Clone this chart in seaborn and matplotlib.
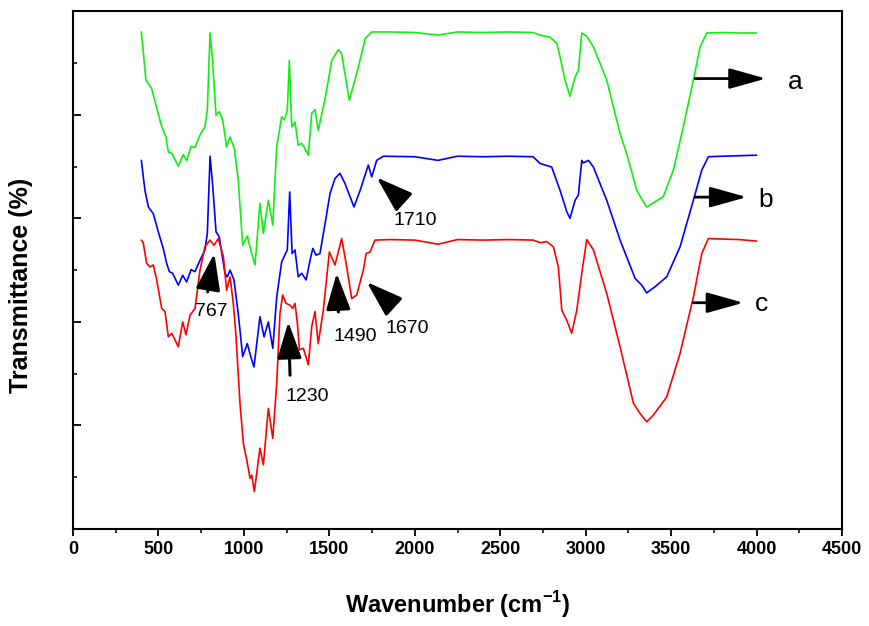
"""
FTIR spectra of samples a, b and c (offset transmittance traces).
Saves the figure to out.png.
"""

import matplotlib
matplotlib.use("Agg")
import matplotlib.pyplot as plt
import seaborn as sns
import pandas as pd
from matplotlib.ticker import MultipleLocator

# spectrum a (green)
wn_a = [400, 427, 460, 519, 544, 558, 578, 616, 645, 665, 691, 714, 743, 772, 786, 802, 815, 837, 856, 876,
        899, 919, 944, 967, 993, 1020, 1040, 1065, 1094, 1114, 1143, 1169, 1192, 1221, 1237, 1254, 1266, 1280,
        1299, 1318, 1338, 1352, 1377, 1397, 1416, 1435, 1475, 1514, 1553, 1572, 1617, 1670, 1709, 1748, 1855,
        2000, 2136, 2250, 2400, 2550, 2692, 2733, 2791, 2831, 2850, 2879, 2908, 2938, 2957, 2977, 3006, 3045,
        3123, 3201, 3240, 3299, 3337, 3357, 3396, 3454, 3513, 3571, 3630, 3669, 3708, 3800, 3900, 4000]
t_a = [96.0, 86.7, 85.1, 77.7, 75.7, 72.8, 72.6, 70.1, 72.3, 71.2, 73.9, 73.7, 76.1, 77.7, 80.9, 95.8, 91.2, 79.9,
       80.6, 79.0, 73.8, 75.7, 73.5, 67.4, 54.8, 56.6, 53.9, 51.0, 62.9, 57.1, 63.5, 58.7, 73.8, 79.6, 79.0, 80.9,
       90.5, 77.7, 78.6, 74.1, 74.5, 73.8, 72.2, 80.3, 81.0, 77.0, 83.1, 90.5, 92.6, 91.8, 82.8, 89.2, 94.7, 96.0,
       96.0, 95.9, 95.4, 96.0, 95.9, 96.0, 95.9, 95.4, 95.0, 93.8, 91.2, 86.7, 83.6, 87.3, 88.6, 95.8, 95.2, 93.1,
       86.7, 76.4, 72.5, 65.4, 63.2, 62.2, 63.0, 64.2, 69.3, 77.7, 86.7, 93.1, 95.8, 95.9, 95.8, 95.8]

# spectrum b (blue)
wn_b = [400, 421, 441, 470, 499, 528, 548, 564, 583, 616, 642, 665, 691, 714, 743, 772, 786, 802, 818, 837,
        856, 889, 903, 919, 942, 967, 993, 1020, 1040, 1059, 1094, 1118, 1143, 1169, 1192, 1221, 1235, 1254,
        1268, 1282, 1299, 1318, 1338, 1364, 1387, 1403, 1422, 1445, 1475, 1504, 1533, 1562, 1592, 1644, 1680,
        1728, 1748, 1777, 1816, 2000, 2136, 2250, 2400, 2550, 2692, 2733, 2801, 2850, 2889, 2908, 2938, 2957,
        2977, 2986, 3016, 3045, 3123, 3201, 3289, 3328, 3357, 3406, 3474, 3552, 3630, 3679, 3718, 3800, 3900, 4000]
t_b = [71.2, 65.4, 62.2, 60.9, 57.4, 54.2, 51.3, 49.7, 49.4, 47.1, 49.0, 47.7, 50.1, 49.7, 51.9, 53.9, 57.1, 72.0,
       66.1, 57.4, 56.4, 49.4, 48.7, 50.0, 48.1, 41.6, 33.3, 35.8, 33.3, 31.3, 41.0, 37.1, 40.0, 34.9, 44.8, 51.6,
       52.6, 53.9, 65.1, 53.2, 53.9, 48.7, 49.4, 48.1, 51.9, 54.2, 52.9, 53.2, 59.0, 64.8, 67.7, 68.7, 66.7, 62.2,
       65.4, 70.3, 68.0, 71.2, 72.0, 71.9, 71.2, 72.0, 71.9, 72.0, 71.9, 70.6, 69.9, 65.4, 61.3, 60.0, 63.5, 64.5,
       71.2, 70.7, 71.2, 69.9, 63.5, 55.8, 48.4, 47.1, 45.6, 46.8, 48.7, 54.5, 63.5, 69.3, 71.9, 72.0, 72.1, 72.2]

# spectrum c (red)
wn_c = [400, 411, 431, 451, 470, 490, 519, 538, 558, 578, 616, 642, 661, 685, 714, 743, 772, 802, 825, 850,
        880, 899, 919, 938, 954, 977, 997, 1017, 1036, 1046, 1061, 1094, 1114, 1143, 1169, 1192, 1211, 1227,
        1246, 1270, 1286, 1299, 1313, 1325, 1348, 1377, 1397, 1416, 1435, 1465, 1500, 1533, 1572, 1598, 1631,
        1660, 1699, 1715, 1738, 1767, 1855, 2000, 2136, 2250, 2400, 2550, 2692, 2733, 2772, 2811, 2840, 2860,
        2889, 2918, 2948, 2977, 3006, 3045, 3123, 3201, 3279, 3318, 3357, 3396, 3474, 3552, 3630, 3679, 3718,
        3800, 3900, 4000]
t_c = [55.8, 55.3, 51.3, 50.6, 51.0, 48.1, 42.6, 42.0, 37.1, 37.8, 35.2, 40.0, 37.5, 41.3, 42.6, 50.0, 54.5, 55.8,
       54.8, 56.1, 52.6, 46.1, 48.7, 43.6, 37.1, 24.3, 16.5, 13.3, 9.8, 10.4, 7.2, 15.6, 12.4, 23.3, 17.5, 28.1,
       41.6, 45.2, 43.6, 43.2, 42.6, 43.6, 39.7, 34.6, 34.9, 31.7, 39.1, 42.0, 35.8, 42.3, 53.5, 51.0, 56.1, 51.3,
       44.5, 45.2, 50.0, 53.2, 53.5, 55.8, 55.9, 55.8, 55.0, 55.9, 55.8, 55.9, 55.8, 55.3, 55.5, 54.5, 50.6, 42.3,
       40.3, 37.8, 42.3, 49.4, 55.9, 53.9, 45.5, 35.2, 24.3, 22.3, 20.7, 22.0, 25.5, 33.9, 44.8, 53.2, 56.1, 56.0,
       55.9, 55.6]

# peak markers: label, arrow tail, arrow tip, label position
peak_labels = ["767", "1230", "1490", "1670", "1710"]
peak_tail = [(788, 45.8), (1270, 29.7), (1553, 41.9), (1855, 43.6), (1914, 63.8)]
peak_tip = [(827, 53.2), (1260, 40.0), (1543, 49.4), (1719, 47.7), (1777, 67.9)]
peak_text = [(812, 42.1), (1368, 25.5), (1650, 37.1), (1953, 38.7), (2001, 59.6)]

# curve name markers
curve_names = ["a", "b", "c"]
name_tail = [(3640, 87.0), (3640, 64.1), (3630, 43.7)]
name_tip = [(4055, 87.0), (3942, 64.1), (3923, 43.7)]
name_text = [(4225, 86.3), (4055, 63.5), (4030, 43.4)]


def main():
    sns.set_style("ticks")
    plt.rcParams["font.family"] = ["Liberation Sans", "DejaVu Sans"]
    plt.rcParams["mathtext.fontset"] = "custom"
    plt.rcParams["mathtext.rm"] = "Liberation Sans"
    plt.rcParams["mathtext.bf"] = "Liberation Sans:bold"
    plt.rcParams["axes.unicode_minus"] = False
    for key in ["text.color", "axes.labelcolor", "xtick.color", "ytick.color", "axes.edgecolor"]:
        plt.rcParams[key] = "black"

    fig = plt.figure(figsize=(8.7, 6.26), dpi=100)
    ax = fig.add_axes([0.0839, 0.155, 0.884, 0.827])

    spectra = [(wn_a, t_a, "#11ee11"), (wn_b, t_b, "#0000ff"), (wn_c, t_c, "#ff0000")]
    for wn, t, col in spectra:
        df = pd.DataFrame({"wn": wn, "t": t})
        sns.lineplot(data=df, x="wn", y="t", color=col, lw=1.2, ax=ax,
                     sort=False, estimator=None)

    for lab, tail, tip, pos in zip(peak_labels, peak_tail, peak_tip, peak_text):
        ax.annotate("", xy=tip, xytext=tail,
                    arrowprops=dict(arrowstyle="-|>,head_length=1.5,head_width=0.5",
                                    color="black", lw=2.2,
                                    mutation_scale=15, shrinkA=0, shrinkB=0))
        ax.text(pos[0], pos[1], lab, fontsize=14, ha="center", va="center")

    for lab, tail, tip, pos in zip(curve_names, name_tail, name_tip, name_text):
        ax.annotate("", xy=tip, xytext=tail,
                    arrowprops=dict(arrowstyle="-|>,head_length=1.5,head_width=0.42",
                                    color="black", lw=2.0,
                                    mutation_scale=15, shrinkA=0, shrinkB=0))
        ax.text(pos[0], pos[1], lab, fontsize=19, ha="center", va="center")

    ax.set_xlim(0, 4500)
    ax.set_ylim(0, 100)
    ax.set_xticks(range(0, 4501, 500))
    ax.xaxis.set_minor_locator(MultipleLocator(250))
    ax.yaxis.set_major_locator(MultipleLocator(20))
    ax.yaxis.set_minor_locator(MultipleLocator(10))
    ax.tick_params(axis="x", which="major", direction="out", length=5, width=1.3,
                   labelsize=13, pad=4)
    ax.tick_params(axis="x", which="minor", direction="out", length=3, width=1.1)
    ax.tick_params(axis="y", which="major", direction="in", length=6, width=1.3,
                   labelleft=False)
    ax.tick_params(axis="y", which="minor", direction="in", length=3, width=1.1)
    for lbl in ax.get_xticklabels():
        lbl.set_fontweight("bold")
    for sp in ax.spines.values():
        sp.set_linewidth(1.5)

    ax.set_xlabel(r"Wavenumber (cm$^{\mathbf{-1}}$)", fontsize=17, fontweight="bold",
                  labelpad=22)
    ax.set_ylabel("Transmittance (%)", fontsize=18, fontweight="bold")
    ax.yaxis.set_label_coords(-0.052, 0.47)

    fig.savefig("out.png", dpi=100)


if __name__ == "__main__":
    main()
